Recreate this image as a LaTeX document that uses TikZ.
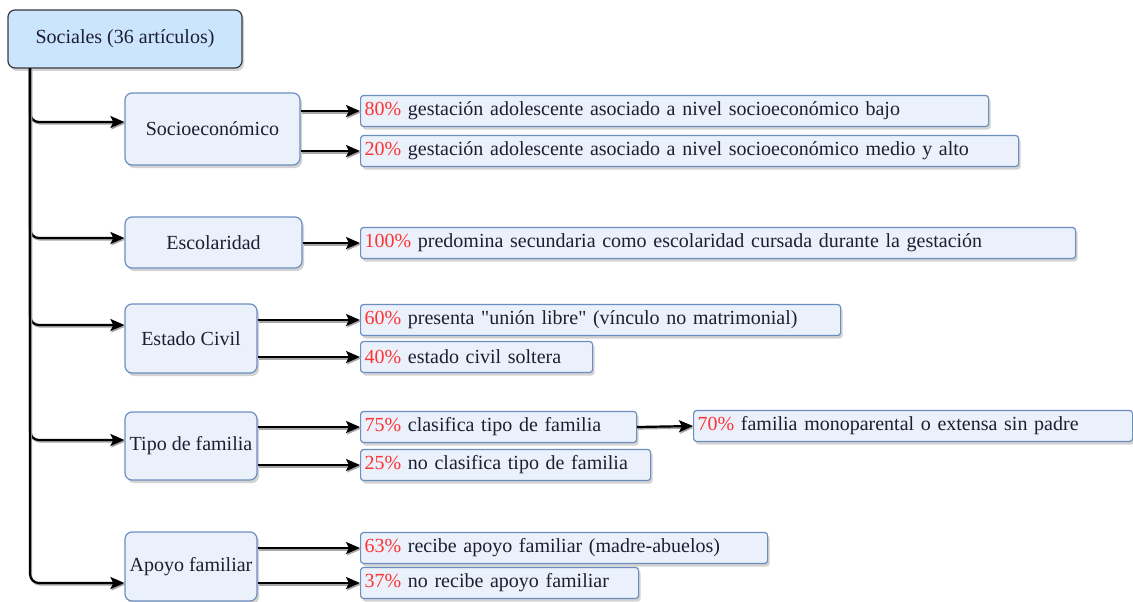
\documentclass[tikz,border=0pt]{standalone}
\usepackage{fontspec}
\setmainfont{Liberation Serif}
\usetikzlibrary{arrows.meta,shadows,positioning}
\definecolor{rootfill}{RGB}{204,229,255}
\definecolor{rootdraw}{RGB}{54,57,61}
\definecolor{boxfill}{RGB}{234,241,251}
\definecolor{boxdraw}{RGB}{108,142,191}
\definecolor{pct}{RGB}{255,51,51}
\definecolor{txt}{RGB}{30,30,50}
\tikzset{
  base/.style={rounded corners=7pt, line width=1.2pt, text=txt,
    drop shadow={shadow xshift=2pt, shadow yshift=-3pt, opacity=0.35, fill=black!50},
    font=\fontsize{20}{24}\selectfont, inner sep=0pt},
  rootbox/.style={base, fill=rootfill, draw=rootdraw, minimum width=234pt, minimum height=58pt},
  catbox/.style={base, fill=boxfill, draw=boxdraw, minimum width=175pt},
  narrowbox/.style={base, fill=boxfill, draw=boxdraw, minimum width=132pt},
  leafbox/.style={base, rounded corners=3pt, fill=boxfill, draw=boxdraw, anchor=west, minimum height=31pt, inner xsep=4pt, align=left},
  arr/.style={line width=2.2pt, -{Stealth[length=14pt,width=12pt,inset=3pt]},
    preaction={draw=black!35, line width=2.2pt, transform canvas={xshift=1pt,yshift=-1.5pt}}},
}
\newcommand{\pc}[1]{\textcolor{pct}{#1}}
\begin{document}
\begin{tikzpicture}[x=1pt,y=-1pt]
\useasboundingbox (0,0) rectangle (1133,602);
% root and categories
\node[rootbox] (root) at (125,39) {Sociales (36 artículos)};
\node[catbox, minimum height=72pt] (soc) at (212.5,129) {Socioeconómico};
\node[catbox, minimum width=177pt, minimum height=51pt] (esc) at (213.5,242.5) {Escolaridad};
\node[narrowbox, minimum height=69pt] (civ) at (191,338.5) {Estado Civil};
\node[narrowbox, minimum height=68pt] (tip) at (191,446) {Tipo de familia};
\node[narrowbox, minimum height=69pt] (apo) at (191,566.5) {Apoyo familiar};
% leaves
\node[leafbox, text width=620pt] (l80) at (360,111) {\pc{80\%} gestación adolescente asociado a nivel socioeconómico bajo};
\node[leafbox, text width=650pt] (l20) at (360,151) {\pc{20\%} gestación adolescente asociado a nivel socioeconómico medio y alto};
\node[leafbox, text width=707pt] (l100) at (360,243) {\pc{100\%} predomina secundaria como escolaridad cursada durante la gestación};
\node[leafbox, text width=472pt] (l60) at (360,320) {\pc{60\%} presenta \textquotedbl unión libre\textquotedbl{} (vínculo no matrimonial)};
\node[leafbox, text width=224pt] (l40) at (360,357) {\pc{40\%} estado civil soltera};
\node[leafbox, text width=268pt] (l75) at (360,427) {\pc{75\%} clasifica tipo de familia};
\node[leafbox, text width=282pt] (l25) at (360,465) {\pc{25\%} no clasifica tipo de familia};
\node[leafbox, text width=431pt] (l70) at (693,426) {\pc{70\%} familia monoparental o extensa sin padre};
\node[leafbox, text width=399pt] (l63) at (360,548) {\pc{63\%} recibe apoyo familiar (madre-abuelos)};
\node[leafbox, text width=270pt] (l37) at (360,583) {\pc{37\%} no recibe apoyo familiar};
% trunk and branches
\coordinate (t) at (root.south -| 30,0);
\draw[arr, rounded corners=9pt] (t) |- ([yshift=7pt]soc.west);
\draw[arr, rounded corners=9pt] (t) |- ([yshift=4.5pt]esc.west);
\draw[arr, rounded corners=9pt] (t) |- ([yshift=13.5pt]civ.west);
\draw[arr, rounded corners=9pt] (t) |- ([yshift=6pt]tip.west);
\draw[arr, rounded corners=9pt] (t) |- ([yshift=-16.5pt]apo.west);
% category to leaves
\draw[arr] (soc.east |- l80.west) -- (l80.west);
\draw[arr] (soc.east |- l20.west) -- (l20.west);
\draw[arr] (esc.east |- l100.west) -- (l100.west);
\draw[arr] (civ.east |- l60.west) -- (l60.west);
\draw[arr] (civ.east |- l40.west) -- (l40.west);
\draw[arr] (tip.east |- l75.west) -- (l75.west);
\draw[arr] (tip.east |- l25.west) -- (l25.west);
\draw[arr] (l75.east) -- (l70.west);
\draw[arr] (apo.east |- l63.west) -- (l63.west);
\draw[arr] (apo.east |- l37.west) -- (l37.west);
\end{tikzpicture}
\end{document}
